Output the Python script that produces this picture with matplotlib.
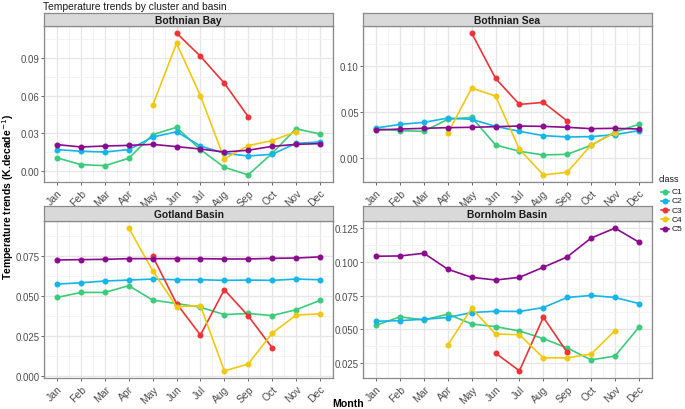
import numpy as np
import matplotlib
matplotlib.use("Agg")
import matplotlib.pyplot as plt
from matplotlib.lines import Line2D

plt.rcParams['font.family'] = ['Liberation Sans', 'DejaVu Sans']

months = ["Jan", "Feb", "Mar", "Apr", "May", "Jun", "Jul", "Aug", "Sep", "Oct", "Nov", "Dec"]
classes = ["C1", "C2", "C3", "C4", "C5"]
colors = {"C1": "#3ACC7A", "C2": "#13B5EA", "C3": "#EE3338", "C4": "#F2C80F", "C5": "#8B0A8F"}
nan = np.nan

# Bothnian Bay
bb_C1 = [0.0104, 0.0050, 0.0042, 0.0101, 0.0290, 0.0348, 0.0170, 0.0029, -0.0032, 0.0140, 0.0337, 0.0295]
bb_C2 = [0.0170, 0.0157, 0.0151, 0.0170, 0.0270, 0.0313, 0.0199, 0.0141, 0.0119, 0.0133, 0.0220, 0.0231]
bb_C3 = [nan, nan, nan, nan, nan, 0.1101, 0.0916, 0.0701, 0.0433, nan, nan, nan]
bb_C4 = [nan, nan, nan, nan, 0.0523, 0.1019, 0.0600, 0.0096, 0.0202, 0.0242, 0.0313, nan]
bb_C5 = [0.0210, 0.0191, 0.0199, 0.0204, 0.0212, 0.0194, 0.0175, 0.0151, 0.0165, 0.0196, 0.0212, 0.0218]

# Bothnian Sea
bs_C1 = [0.0320, 0.0298, 0.0291, 0.0422, 0.0444, 0.0142, 0.0073, 0.0033, 0.0040, 0.0138, 0.0284, 0.0367]
bs_C2 = [0.0327, 0.0367, 0.0389, 0.0436, 0.0422, 0.0345, 0.0291, 0.0244, 0.0229, 0.0233, 0.0255, 0.0298]
bs_C3 = [nan, nan, nan, nan, 0.1364, 0.0869, 0.0585, 0.0607, 0.0404, nan, nan, nan]
bs_C4 = [nan, nan, nan, 0.0269, 0.0764, 0.0676, 0.0095, -0.0185, -0.0156, 0.0142, 0.0276, nan]
bs_C5 = [0.0305, 0.0316, 0.0324, 0.0331, 0.0335, 0.0342, 0.0349, 0.0345, 0.0335, 0.0320, 0.0324, 0.0316]

# Gotland Basin
gb_C1 = [0.0490, 0.0521, 0.0521, 0.0563, 0.0473, 0.0452, 0.0429, 0.0383, 0.0390, 0.0377, 0.0413, 0.0471]
gb_C2 = [0.0573, 0.0581, 0.0592, 0.0598, 0.0604, 0.0600, 0.0600, 0.0596, 0.0598, 0.0596, 0.0604, 0.0600]
gb_C3 = [nan, nan, nan, nan, 0.0746, 0.0452, 0.0256, 0.0538, 0.0375, 0.0177, nan, nan]
gb_C4 = [nan, nan, nan, 0.0921, 0.0656, 0.0433, 0.0438, 0.0033, 0.0075, 0.0267, 0.0380, 0.0388]
gb_C5 = [0.0723, 0.0725, 0.0727, 0.0731, 0.0731, 0.0731, 0.0731, 0.0729, 0.0729, 0.0733, 0.0735, 0.0742]

# Bornholm Basin
bh_C1 = [0.0529, 0.0592, 0.0569, 0.0612, 0.0539, 0.0519, 0.0487, 0.0430, 0.0360, 0.0272, 0.0300, 0.0514]
bh_C2 = [0.0559, 0.0564, 0.0574, 0.0587, 0.0624, 0.0634, 0.0632, 0.0661, 0.0736, 0.0751, 0.0736, 0.0691]
bh_C3 = [nan, nan, nan, nan, nan, 0.0322, 0.0190, 0.0589, 0.0327, nan, nan, nan]
bh_C4 = [nan, nan, nan, 0.0382, 0.0656, 0.0464, 0.0459, 0.0287, 0.0287, 0.0315, 0.0489, nan]
bh_C5 = [0.1043, 0.1045, 0.1065, 0.0946, 0.0886, 0.0866, 0.0886, 0.0961, 0.1038, 0.1178, 0.1252, 0.1148]

panels = [
    ("Bothnian Bay", [bb_C1, bb_C2, bb_C3, bb_C4, bb_C5], [0.0, 0.03, 0.06, 0.09], "{:.2f}"),
    ("Bothnian Sea", [bs_C1, bs_C2, bs_C3, bs_C4, bs_C5], [0.0, 0.05, 0.10], "{:.2f}"),
    ("Gotland Basin", [gb_C1, gb_C2, gb_C3, gb_C4, gb_C5], [0.0, 0.025, 0.05, 0.075], "{:.3f}"),
    ("Bornholm Basin", [bh_C1, bh_C2, bh_C3, bh_C4, bh_C5], [0.025, 0.05, 0.075, 0.1, 0.125], "{:.3f}"),
]

W, H = 685, 410
fig = plt.figure(figsize=(W / 100, H / 100), dpi=100)

def fr(x0, y0, x1, y1):
    return [x0 / W, 1 - y1 / H, (x1 - x0) / W, (y1 - y0) / H]

# (left, right, strip_top, strip_bottom, plot_bottom)
boxes = [
    (44, 333, 14, 27, 183),
    (363, 652, 14, 27, 183),
    (44, 333, 207, 222, 379),
    (363, 652, 207, 222, 379),
]

border_col = "#8a8a8a"
grid_major = "#e6e6e6"
grid_minor = "#f3f3f3"
tick_col = "#4d4d4d"
LW, MS = 1.2, 3.3

x = np.arange(1, 13)
for (name, series, yticks, fmt), (l, r, st, sb, pb) in zip(panels, boxes):
    ax = fig.add_axes(fr(l, sb, r, pb))
    vals = np.concatenate([np.array(s, dtype=float) for s in series])
    vmin, vmax = np.nanmin(vals), np.nanmax(vals)
    pad = (vmax - vmin) * 0.05
    ax.set_xlim(0.45, 12.55)
    ax.set_xticks(x)
    ax.set_xticklabels(months, rotation=45, ha="right", rotation_mode="anchor")
    ax.set_xticks(np.arange(0.5, 13, 1.0), minor=True)
    ax.set_yticks(yticks)
    ax.set_yticklabels([fmt.format(v) for v in yticks])
    step = yticks[1] - yticks[0]
    ymin_t = [yticks[0] - step / 2] + [(yticks[i] + yticks[i + 1]) / 2 for i in range(len(yticks) - 1)] + [yticks[-1] + step / 2]
    ax.set_yticks(ymin_t, minor=True)
    ax.set_ylim(vmin - pad, vmax + pad)
    ax.grid(True, which="major", color=grid_major, lw=0.9, zorder=0)
    ax.grid(True, which="minor", color=grid_minor, lw=0.6, zorder=0)
    ax.set_axisbelow(True)
    ax.tick_params(axis="x", which="major", labelsize=7.5, colors=tick_col, length=2.5, width=0.6, pad=1.5)
    ax.tick_params(axis="y", which="major", labelsize=6.9, colors=tick_col, length=2.0, width=0.6, pad=1.0)
    ax.tick_params(axis="both", which="minor", length=0)
    for sp in ax.spines.values():
        sp.set_color(border_col)
        sp.set_linewidth(0.9)
    for c, s in zip(classes, series):
        ax.plot(x, s, color=colors[c], lw=LW, marker="o", ms=MS, zorder=3)
    # strip
    sax = fig.add_axes(fr(l, st, r, sb))
    sax.set_facecolor("#d9d9d9")
    sax.set_xticks([])
    sax.set_yticks([])
    for sp in sax.spines.values():
        sp.set_color(border_col)
        sp.set_linewidth(0.9)
    sax.text(0.5, 0.48, name, ha="center", va="center", fontsize=7.4, fontweight="bold",
             color="#1a1a1a", transform=sax.transAxes)

fig.text(43 / W, 1 - 6.5 / H, "Temperature trends by cluster and basin", ha="left", va="center",
         fontsize=7.4, color="#1a1a1a")
fig.text(8 / W, 1 - 197 / H, "Temperature trends (K.decade$^{-1}$)", rotation=90, ha="center",
         va="center", fontsize=7.5, fontweight="bold")
fig.text(348 / W, 1 - 404 / H, "Month", ha="center", va="center", fontsize=7.6, fontweight="bold")

# legend (drawn manually to match the compact ggplot key layout)
fig.text(659 / W, 1 - 180 / H, "class", ha="left", va="center", fontsize=6.4, color="#1a1a1a")
for i, c in enumerate(classes):
    yy = 1 - (192.5 + i * 9.3) / H
    fig.add_artist(Line2D([661 / W, 669 / W], [yy, yy], color=colors[c], lw=LW, transform=fig.transFigure))
    fig.add_artist(Line2D([665 / W], [yy], color=colors[c], marker="o", ms=MS, lw=0, transform=fig.transFigure))
    fig.text(672 / W, yy, c, ha="left", va="center", fontsize=6.0, color="#1a1a1a")

fig.savefig("out.png", dpi=100)
